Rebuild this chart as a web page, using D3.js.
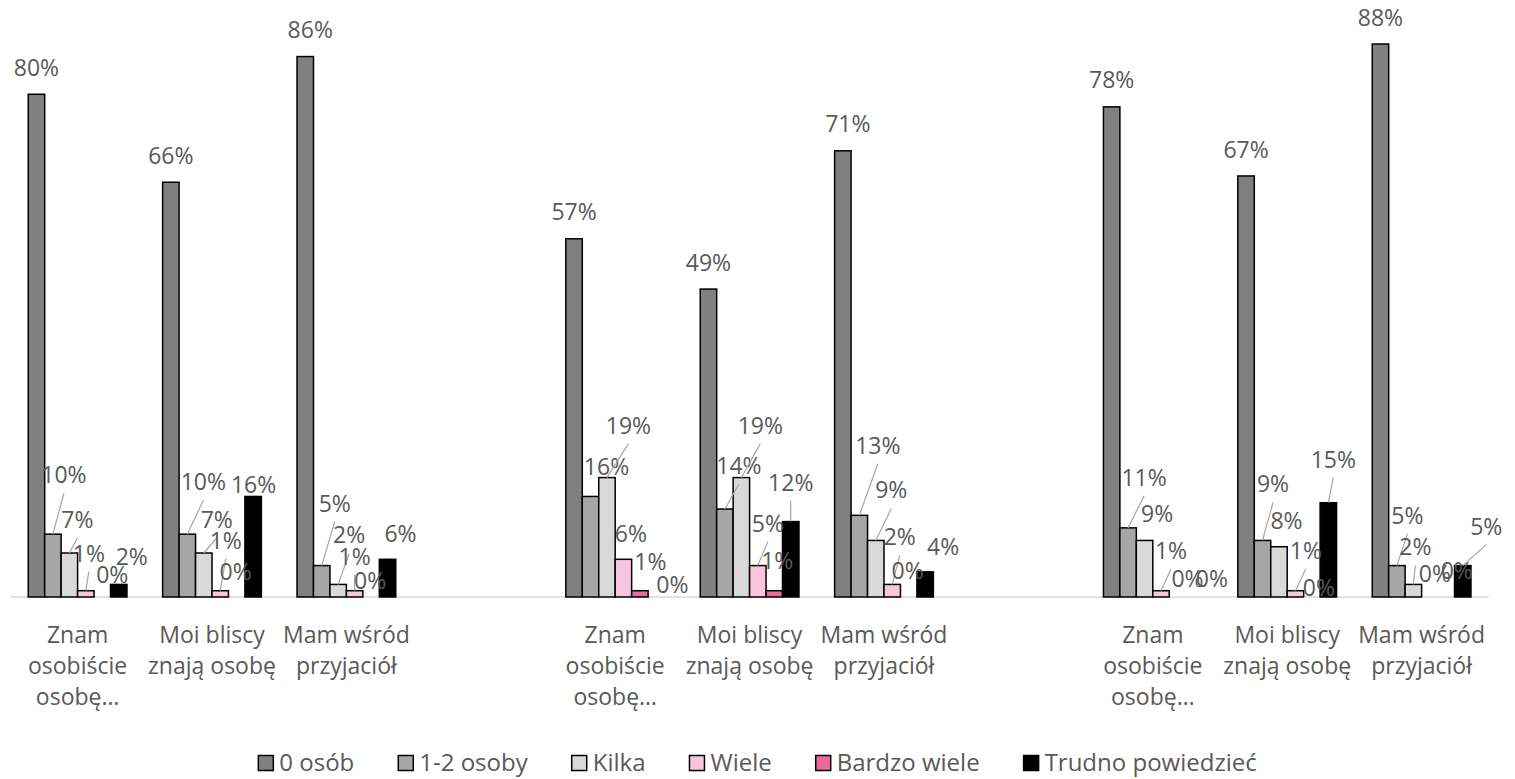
<!DOCTYPE html>
<html><head><meta charset="utf-8">
<script src="https://cdn.jsdelivr.net/npm/d3@7"></script>
<style>
html,body{margin:0;padding:0;background:#fff;}
svg{display:block;font-family:"Open Sans",sans-serif;}
</style>
</head><body>
<svg id="chart" width="1515" height="779"></svg>
<script>
// ---------- DATA ----------
const groupCount = 3;
const categories = ["Znam osobiście osobę…", "Moi bliscy znają osobę", "Mam wśród przyjaciół"];
const seriesNames = ["0 osób", "1-2 osoby", "Kilka", "Wiele", "Bardzo wiele", "Trudno powiedzieć"];
// values per column: group1 (3 cats), group2 (3 cats), group3 (3 cats)
const zeroOsob      = [0.80, 0.66, 0.86, 0.57, 0.49, 0.71, 0.78, 0.67, 0.88];
const jednaDwie     = [0.10, 0.10, 0.05, 0.16, 0.14, 0.13, 0.11, 0.09, 0.05];
const kilka         = [0.07, 0.07, 0.02, 0.19, 0.19, 0.09, 0.09, 0.08, 0.02];
const wiele         = [0.01, 0.01, 0.01, 0.06, 0.05, 0.02, 0.01, 0.01, 0.00];
const bardzoWiele   = [0.00, 0.00, 0.00, 0.01, 0.01, 0.00, 0.00, 0.00, 0.00];
const trudno        = [0.02, 0.16, 0.06, 0.00, 0.12, 0.04, 0.00, 0.15, 0.05];
const seriesValues = [zeroOsob, jednaDwie, kilka, wiele, bardzoWiele, trudno];

// ---------- STYLE ----------
const colors = ["#808080", "#a6a6a6", "#d9d9d9", "#f8c6dc", "#ea6aa0", "#000000"];
// label nudges (dx, dy of label centre from bar-top centre), per series per column
const labelNudges = [
  [[0,-26.5],[0,-26.5],[5,-26.5],[0,-26.5],[0,-26.5],[5,-26.5],[0,-26.5],[0,-26.5],[0,-26.5]],
  [[11,-59],[16,-52],[13,-62],[16,-29.5],[14,-43],[18.5,-69.5],[16,-50],[10.5,-56],[10.5,-50]],
  [[8,-33],[13,-33],[11,-49],[21.5,-52],[19,-52],[15.5,-50],[12.5,-26],[7.5,-26],[2,-37]],
  [[3,-37],[5.5,-50],[0,-34],[7.5,-25.5],[10,-42],[7.5,-47],[10,-40],[10.5,-40],[5,-23]],
  [[10,-22.5],[-1,-25],[-1,-16],[10.5,-29],[3,-29.5],[-1,-26.5],[10,-18.5],[7,-9],[10.5,-26]],
  [[13,-27],[0.5,-12],[13,-25],[16,-12],[0,-39],[18,-25],[18,-18.5],[5,-43],[23.5,-39]]
];

// ---------- LAYOUT ----------
const svg = d3.select("#chart");
const baseY = 597;
const plotLeft = 10.4, plotRight = 1488.8;

// slots: 3 categories per group, spacer slot between groups
const slots = [];
const columns = [];
for (let g = 0; g < groupCount; g++) {
  categories.forEach((c, i) => { slots.push(`g${g}c${i}`); columns.push({slot: `g${g}c${i}`, cat: c, col: g * categories.length + i}); });
  if (g < groupCount - 1) slots.push(`gap${g}`);
}

const x0 = d3.scaleBand().domain(slots).range([plotLeft, plotRight]).paddingInner(0).paddingOuter(0);
const x1 = d3.scaleBand().domain(seriesNames).range([0, x0.bandwidth()]).paddingOuter(0.5 / (1 - 0)).paddingInner(0);
// outer padding so that bars occupy 6/7 of band (gap = one bar width)
x1.range([x0.bandwidth() / 14, x0.bandwidth() * 13 / 14]);
const y = d3.scaleLinear().domain([0, 0.95]).range([baseY, 0]);
const fmt = d3.format(".0%");

// axis line
svg.append("line")
  .attr("x1", plotLeft).attr("x2", plotRight)
  .attr("y1", baseY).attr("y2", baseY)
  .attr("stroke", "#d9d9d9").attr("stroke-width", 1.5);

// bars
const barData = [];
columns.forEach(c => {
  seriesNames.forEach((s, si) => {
    barData.push({slot: c.slot, col: c.col, series: s, si, v: seriesValues[si][c.col]});
  });
});

svg.append("g").selectAll("rect")
  .data(barData.filter(d => d.v > 0))
  .join("rect")
  .attr("x", d => x0(d.slot) + x1(d.series))
  .attr("y", d => y(d.v))
  .attr("width", x1.bandwidth())
  .attr("height", d => baseY - y(d.v))
  .attr("fill", d => colors[d.si])
  .attr("stroke", "#000")
  .attr("stroke-width", 1.5);

// labels + leader lines
const lblG = svg.append("g");
barData.forEach(d => {
  const cx = x0(d.slot) + x1(d.series) + x1.bandwidth() / 2;
  const top = y(d.v);
  const [dx, dy] = labelNudges[d.si][d.col];
  const lx = cx + dx, ly = top + dy;
  if (dy < -31) {
    lblG.append("line")
      .attr("x1", lx).attr("y1", ly + 18)
      .attr("x2", cx).attr("y2", top)
      .attr("stroke", "#a6a6a6").attr("stroke-width", 1.2);
  }
  lblG.append("text")
    .attr("x", lx).attr("y", ly).attr("dy", "0.35em")
    .attr("text-anchor", "middle")
    .attr("font-size", 23).attr("fill", "#595959")
    .text(fmt(d.v));
});

// category labels (wrapped)
const catG = svg.append("g");
const maxW = x0.bandwidth() - 4;
columns.forEach(c => {
  const t = catG.append("text")
    .attr("text-anchor", "middle").attr("font-size", 23).attr("fill", "#595959");
  const words = c.cat.split(" ");
  const lines = [];
  let cur = [];
  const probe = catG.append("text").attr("font-size", 23);
  words.forEach(w => {
    const test = cur.concat([w]).join(" ");
    probe.text(test);
    if (cur.length && probe.node().getComputedTextLength() > maxW) { lines.push(cur.join(" ")); cur = [w]; }
    else cur.push(w);
  });
  if (cur.length) lines.push(cur.join(" "));
  probe.remove();
  const cx = x0(c.slot) + x0.bandwidth() / 2;
  lines.forEach((ln, i) => {
    t.append("tspan").attr("x", cx).attr("y", 635 + i * 31).attr("dy", "0.35em").text(ln);
  });
});

// legend
const legFont = 24, sq = 15, pad = 6, gap = 44;
const legG = svg.append("g");
const items = seriesNames.map((s, i) => {
  const tx = legG.append("text").attr("font-size", legFont).attr("fill", "#595959").attr("dy", "0.35em").text(s);
  return {s, i, tx, w: tx.node().getComputedTextLength()};
});
const total = d3.sum(items, d => sq + pad + d.w) + gap * (items.length - 1);
let lx = 757.5 - total / 2;
const legY = 763;
items.forEach(it => {
  legG.append("rect").attr("x", lx).attr("y", legY - sq / 2).attr("width", sq).attr("height", sq)
    .attr("fill", colors[it.i]).attr("stroke", "#000").attr("stroke-width", 1.5);
  it.tx.attr("x", lx + sq + pad).attr("y", legY);
  lx += sq + pad + it.w + gap;
});
</script>
</body></html>
